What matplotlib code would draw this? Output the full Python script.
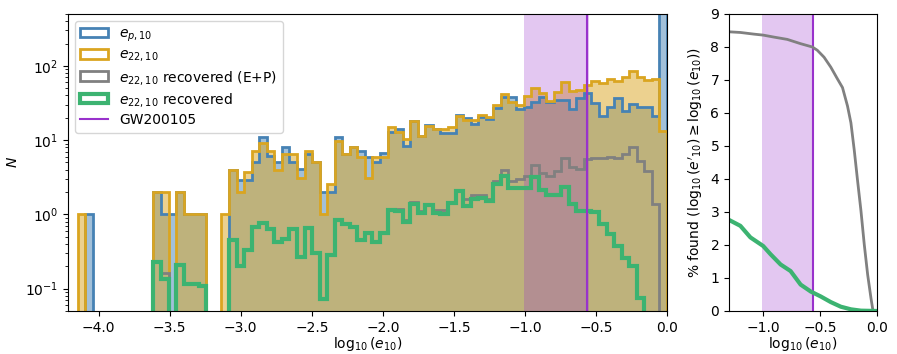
import numpy as np
import matplotlib
matplotlib.use("Agg")
import matplotlib.pyplot as plt

# histogram bins in log10(e_10)
edges = np.linspace(-4.146, 0.0, 79)

n_ep = [0, 1, 0, 0, 0, 0, 0, 0, 0, 0,
        2, 1, 1, 2, 1, 1, 1, 0, 0, 0,
        4.0, 2.9, 2.9, 5.0, 10.9, 6.2, 5.0, 8.1, 5.0, 4.1,
        6.5, 5.0, 2.0, 2.0, 10.9, 6.5, 8.1, 7.2, 5.9, 5.0,
        6.8, 13, 14.1, 8.4, 18, 11.2, 16, 14, 12.3, 12.3,
        22, 20, 16.5, 20.5, 19.2, 26.8, 37.7, 37.7, 26.5, 27.6,
        33, 38, 33, 35, 35, 26.5, 37, 43.5, 32, 21,
        28, 37, 25, 31, 28, 28, 21, 900]

n_e22 = [1, 0, 0, 0, 0, 0, 0, 0, 0, 0,
         2, 2, 0, 2, 1, 1, 1, 0, 0, 1,
         4.0, 2.0, 3.7, 7.2, 9.2, 7.2, 3.9, 6.5, 6.5, 3.1,
         7.2, 5.0, 1.0, 2.6, 9.7, 6.5, 8.1, 5.9, 3.1, 5.9,
         5.9, 15.2, 12.7, 10.3, 18.2, 11.5, 15.6, 14.1, 14.1, 15.1,
         21, 18.4, 18.4, 21.8, 20.3, 29.7, 41.8, 32.3, 30, 39,
         50, 43, 34, 44, 60, 46, 48, 56, 62, 58,
         67, 62, 70, 86, 70, 64, 67, 13.4]

n_rec_ep = [0, 0, 0, 0, 0, 0, 0, 0, 0, 0,
            0.23, 0.16, 0, 0.21, 0.115, 0.115, 0.11, 0, 0, 0,
            0.45, 0.2, 0.33, 0.68, 0.77, 0.63, 0.43, 0.46, 0.63, 0.27,
            0.65, 0.3, 0.072, 0.28, 0.84, 0.75, 0.68, 0.45, 0.57, 0.43,
            0.57, 1.2, 1.2, 0.85, 1.45, 1.1, 1.38, 1.14, 1.15, 1.44,
            2.07, 1.6, 1.8, 1.8, 1.6, 2.8, 3.9, 2.8, 3.0, 3.3,
            4.66, 3.65, 3.3, 3.8, 5.8, 4.3, 4.1, 5.5, 5.7, 5.7,
            5.9, 5.7, 6.5, 8.1, 5.3, 3.8, 1.38, 0]

n_rec = [0, 0, 0, 0, 0, 0, 0, 0, 0, 0,
         0.23, 0.134, 0, 0.21, 0.115, 0.115, 0.11, 0, 0, 0,
         0.45, 0.2, 0.33, 0.68, 0.77, 0.63, 0.43, 0.46, 0.63, 0.27,
         0.65, 0.3, 0.072, 0.28, 0.84, 0.75, 0.68, 0.45, 0.57, 0.43,
         0.57, 1.14, 1.12, 0.8, 1.38, 1.05, 1.34, 1.05, 1.0, 1.44,
         2.07, 1.31, 1.6, 1.66, 1.5, 2.6, 3.3, 2.3, 2.3, 2.3,
         3.15, 2.1, 1.8, 1.8, 2.36, 1.4, 1.12, 1.12, 1.07, 0.74,
         0.55, 0.38, 0.26, 0.2, 0.074, 0, 0, 0]

# cumulative fraction found (right panel)
x_found_ep = [-1.3, -1.2, -1.082, -1.0, -0.906, -0.788, -0.671, -0.568, -0.524,
              -0.465, -0.406, -0.347, -0.303, -0.259, -0.229, -0.2, -0.171,
              -0.141, -0.112, -0.082, -0.053, -0.035]
pct_found_ep = [8.46, 8.44, 8.39, 8.36, 8.30, 8.23, 8.10, 8.0, 7.9,
                7.69, 7.39, 7.03, 6.77, 6.21, 5.70, 4.88, 3.96,
                3.04, 2.02, 1.10, 0.39, 0.0]

x_found = [-1.3, -1.2, -1.112, -1.0, -0.935, -0.847, -0.759, -0.671, -0.582,
           -0.494, -0.406, -0.318, -0.229, -0.141, 0.0]
pct_found = [2.76, 2.58, 2.23, 1.97, 1.72, 1.41, 1.21, 0.80, 0.59,
             0.44, 0.27, 0.13, 0.05, 0.01, 0.0]

gw_lo, gw_hi, gw_med = -1.01, -0.55, -0.565

c_ep = "#4682b4"
c_22 = "goldenrod"
c_gw = "darkorchid"
c_rec = "mediumseagreen"

fig = plt.figure(figsize=(8.97, 3.54), dpi=100)
ax = fig.add_axes([0.0758, 0.1215, 0.6678, 0.839])
ax2 = fig.add_axes([0.8127, 0.1215, 0.165, 0.839])

centers = 0.5 * (edges[:-1] + edges[1:])

ax.hist(centers, bins=edges, weights=n_ep, histtype="stepfilled", color=c_ep, alpha=0.5, log=True)
ax.hist(centers, bins=edges, weights=n_e22, histtype="stepfilled", color=c_22, alpha=0.5, log=True)
ax.axvspan(gw_lo, gw_hi, color=c_gw, alpha=0.27, lw=0)
ax.hist(centers, bins=edges, weights=n_ep, histtype="step", color=c_ep, lw=2, log=True,
        label=r"$e_{p,10}$")
ax.hist(centers, bins=edges, weights=n_e22, histtype="step", color=c_22, lw=2, log=True,
        label=r"$e_{22,10}$")
ax.hist(centers, bins=edges, weights=n_rec_ep, histtype="step", color="grey", lw=2, log=True,
        label=r"$e_{22,10}$ recovered (E+P)")
ax.hist(centers, bins=edges, weights=n_rec, histtype="step", color=c_rec, lw=3, log=True,
        label=r"$e_{22,10}$ recovered")
ax.axvline(gw_med, color=c_gw, lw=1.5, label="GW200105")

ax.set_xlim(-4.216, 0)
ax.set_ylim(0.05, 500)
ax.set_xticks(np.arange(-4.0, 0.01, 0.5))
ax.set_xlabel(r"$\log_{10}(e_{10})$", labelpad=0)
ax.set_ylabel(r"$N$")
ax.legend(loc="upper left", fontsize=10, labelspacing=0.3)

ax2.axvspan(gw_lo, gw_hi, color=c_gw, alpha=0.27, lw=0)
ax2.axvline(gw_med, color=c_gw, lw=1.5)
ax2.plot(x_found_ep, pct_found_ep, color="grey", lw=2)
ax2.plot(x_found, pct_found, color=c_rec, lw=3)
ax2.set_xlim(-1.3, 0)
ax2.set_ylim(0, 9)
ax2.set_xticks([-1.0, -0.5, 0.0])
ax2.set_yticks(range(10))
ax2.set_xlabel(r"$\log_{10}(e_{10})$", labelpad=0)
ax2.set_ylabel(r"% found ($\log_{10}(e'_{10}) \geq \log_{10}(e_{10})$)")

fig.savefig("out.png", dpi=100)
